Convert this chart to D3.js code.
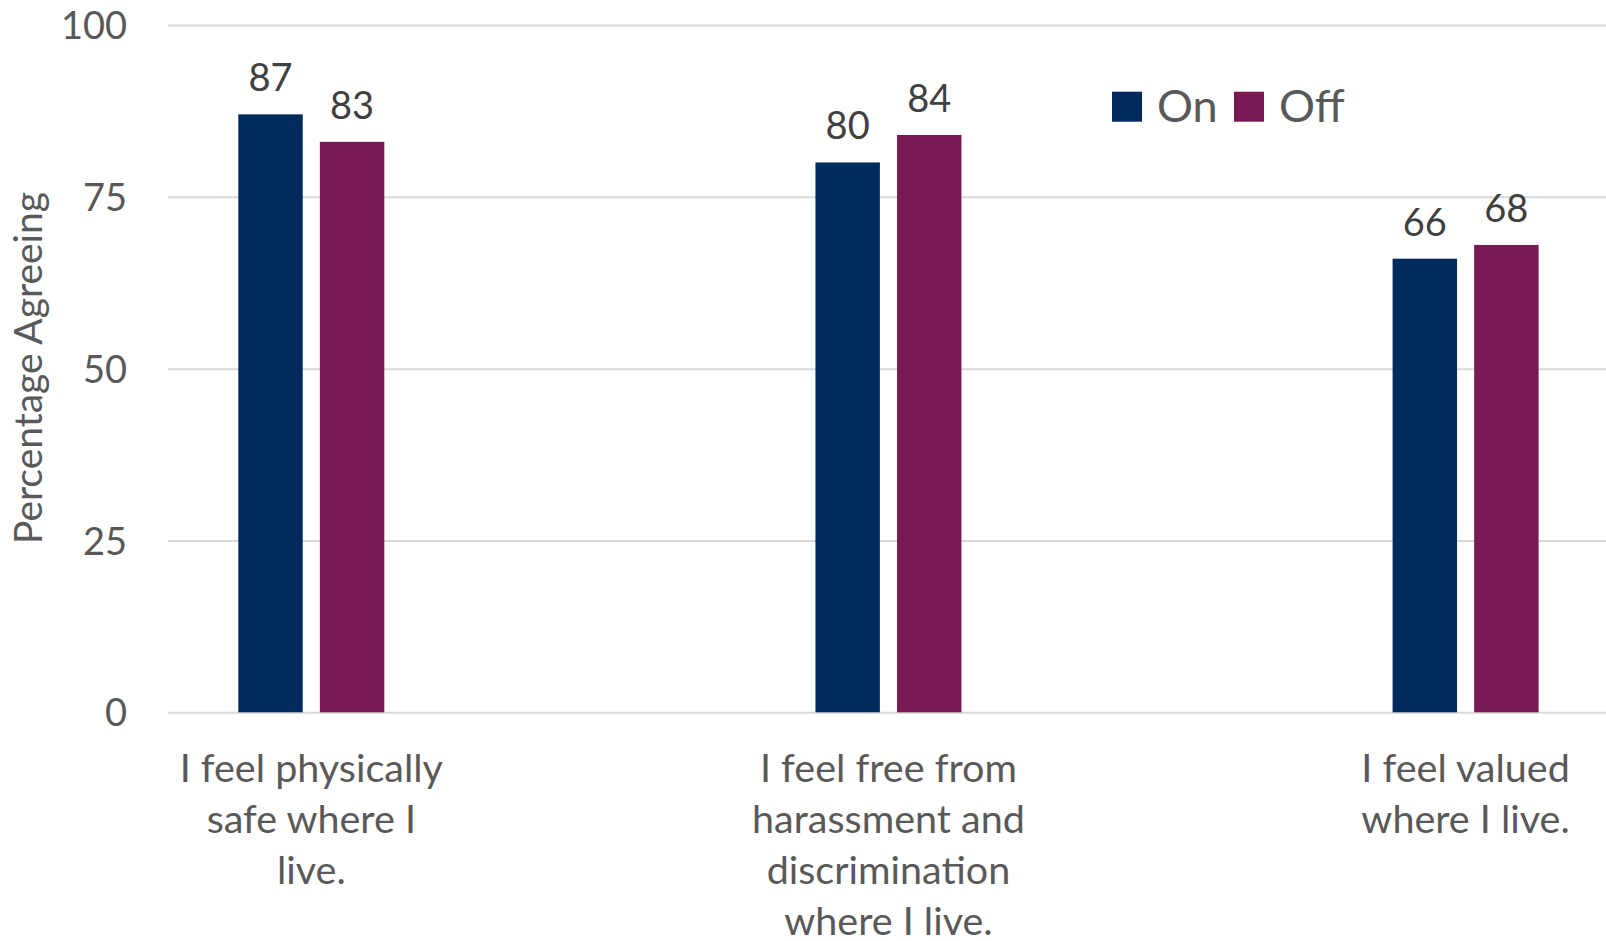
<!DOCTYPE html>
<html>
<head>
<meta charset="utf-8">
<script src="https://cdn.jsdelivr.net/npm/d3@7"></script>
<style>
  html, body { margin: 0; padding: 0; background: #fff; }
  svg { display: block; font-family: Lato, "Open Sans", sans-serif; }
</style>
</head>
<body>
<svg id="chart" width="1606" height="941"></svg>
<script>
// Survey results: share of respondents agreeing, by residence
const categories = [
  "I feel physically safe where I live.",
  "I feel free from harassment and discrimination where I live.",
  "I feel valued where I live."
];
const categoryLines = [
  ["I feel physically", "safe where I", "live."],
  ["I feel free from", "harassment and", "discrimination", "where I live."],
  ["I feel valued", "where I live."]
];
const seriesNames = ["On", "Off"];
const onValues = [87, 80, 66];
const offValues = [83, 84, 68];
const yTicks = [0, 25, 50, 75, 100];
const seriesColors = ["#002B5C", "#7A1A54"];
const yTitle = "Percentage Agreeing";

const svg = d3.select("#chart");

const y = d3.scaleLinear().domain([0, 100]).range([712.3, 25]);
const x = d3.scalePoint().domain(categories).range([311.3, 1465.6]);
const xSub = d3.scaleBand().domain(seriesNames).range([-73, 73]).paddingInner(0.21).paddingOuter(0);
const color = d3.scaleOrdinal().domain(seriesNames).range(seriesColors);

const rows = categories.map((c, i) => ({ cat: c, values: [
  { key: "On", value: onValues[i] },
  { key: "Off", value: offValues[i] }
]}));

// Gridlines
svg.append("g")
  .attr("transform", "translate(167.7,0)")
  .call(d3.axisLeft(y).tickValues(yTicks).tickSize(-(1606 - 167.7)).tickFormat(""))
  .call(g => g.select(".domain").remove())
  .call(g => g.selectAll(".tick line").attr("stroke", "#D9D9D9").attr("stroke-width", 2));

// Y tick labels
svg.append("g")
  .attr("transform", "translate(127,0)")
  .call(d3.axisLeft(y).tickValues(yTicks).tickSize(0).tickPadding(0))
  .call(g => g.select(".domain").remove())
  .call(g => g.selectAll(".tick text")
    .attr("font-family", "Lato, sans-serif")
    .attr("font-size", 38)
    .attr("fill", "#595959")
    .attr("dy", "0.36em"));

// Bars
const groups = svg.append("g").selectAll("g")
  .data(rows).join("g")
  .attr("transform", d => `translate(${x(d.cat)},0)`);

groups.selectAll("rect")
  .data(d => d.values).join("rect")
  .attr("x", d => xSub(d.key))
  .attr("width", xSub.bandwidth())
  .attr("y", d => y(d.value))
  .attr("height", d => y(0) - y(d.value))
  .attr("fill", d => color(d.key));

// Value labels
groups.selectAll("text.value")
  .data(d => d.values).join("text")
  .attr("class", "value")
  .attr("x", d => xSub(d.key) + xSub.bandwidth() / 2)
  .attr("y", d => y(d.value) - 23)
  .attr("text-anchor", "middle")
  .attr("font-size", 38)
  .attr("fill", "#404040")
  .text(d => d.value);

// Category labels
const catLabels = svg.append("g").selectAll("text")
  .data(categories).join("text")
  .attr("x", d => x(d))
  .attr("y", 781.5)
  .attr("text-anchor", "middle")
  .attr("font-size", 39.5)
  .attr("fill", "#595959");
catLabels.selectAll("tspan")
  .data((d, i) => categoryLines[i]).join("tspan")
  .attr("x", function() { return d3.select(this.parentNode).attr("x"); })
  .attr("dy", (d, i) => i === 0 ? 0 : 51.2)
  .text(d => d);

// Y axis title
svg.append("text")
  .attr("transform", "translate(42,368) rotate(-90)")
  .attr("text-anchor", "middle")
  .attr("font-size", 39)
  .attr("fill", "#595959")
  .text(yTitle);

// Legend
const legendX = [1112, 1234];
const legend = svg.append("g").selectAll("g")
  .data(seriesNames).join("g")
  .attr("transform", (d, i) => `translate(${legendX[i]},91.7)`);
legend.append("rect")
  .attr("width", 30).attr("height", 30)
  .attr("fill", d => color(d));
legend.append("text")
  .attr("x", 45).attr("y", 30)
  .attr("font-size", 45)
  .attr("fill", "#595959")
  .text(d => d);
</script>
</body>
</html>
